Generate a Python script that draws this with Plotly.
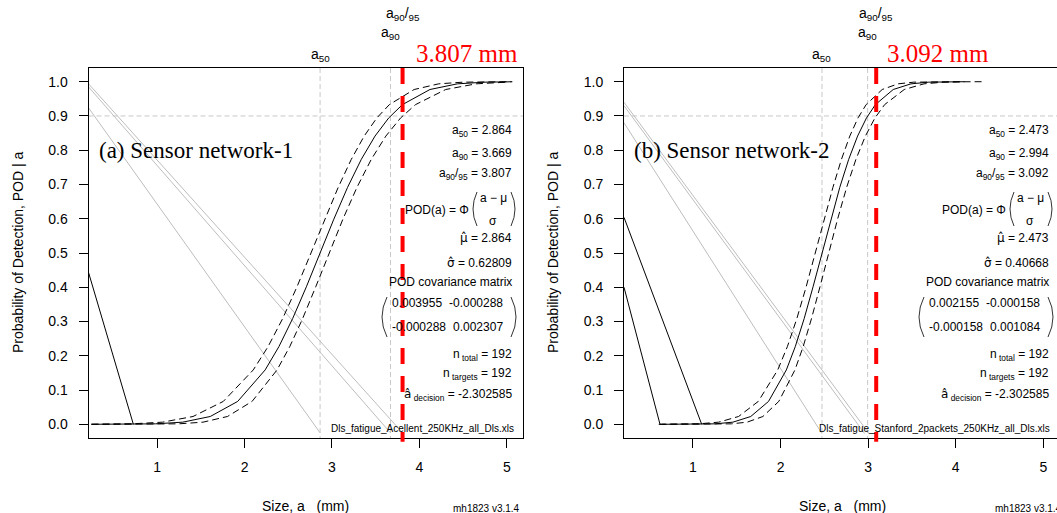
import plotly.graph_objects as go

W, H = 1057, 513
SANS = "Liberation Sans, Arial, sans-serif"
SERIF = "Liberation Serif, Times New Roman, serif"

# ---------------- data ----------------
X_TICKS = [1, 2, 3, 4, 5]
Y_TICKS = [0.0, 0.1, 0.2, 0.3, 0.4, 0.5, 0.6, 0.7, 0.8, 0.9, 1.0]

# Panel (a) Sensor network-1
A_MED_X = [0.25, 0.3516, 0.6657, 0.9797, 1.2938, 1.6078, 1.9219, 2.2359, 2.3929, 2.5500, 2.7070, 2.864,
           3.0210, 3.1780, 3.3351, 3.4921, 3.6491, 3.8061, 4.1202, 4.4342, 4.7483, 5.0623]
A_MED_P = [0.000016, 0.0000317, 0.000233, 0.00135, 0.00621, 0.02275, 0.0668, 0.1587, 0.2266, 0.3085, 0.4013, 0.5,
           0.5987, 0.6915, 0.7734, 0.8413, 0.8944, 0.9332, 0.97725, 0.99379, 0.99865, 0.999767]
A_LO_X = [0.25, 0.4173, 0.6934, 0.9701, 1.2472, 1.5254, 1.8048, 2.0865, 2.3719, 2.5169, 2.6642, 2.8142, 2.9675,
          3.1245, 3.2852, 3.4493, 3.6161, 3.7851, 3.9558, 4.3006, 4.6483, 4.9977]
A_LO_P = [0.0000008, 0.0000034, 0.0000317, 0.000233, 0.00135, 0.00621, 0.02275, 0.0668, 0.1587, 0.2266, 0.3085,
          0.4013, 0.5, 0.5987, 0.6915, 0.7734, 0.8413, 0.8944, 0.9332, 0.97725, 0.99379, 0.99865]
A_HI_X = [0.25, 0.3613, 0.7122, 1.0622, 1.4108, 1.7573, 2.0999, 2.2689, 2.4358, 2.5998, 2.7605, 2.9175, 3.0708,
          3.2209, 3.3681, 3.5131, 3.6564, 3.9398, 4.2201, 4.4989, 4.7764, 5.0534]
A_HI_P = [0.000126, 0.000233, 0.00135, 0.00621, 0.02275, 0.0668, 0.1587, 0.2266, 0.3085, 0.4013, 0.5, 0.5987,
          0.6915, 0.7734, 0.8413, 0.8944, 0.9332, 0.97725, 0.99379, 0.99865, 0.999767, 0.999968]
A_GRAY = [([0.216, 3.807], [0.994, -0.025]),
          ([0.216, 3.669], [0.985, -0.025]),
          ([0.216, 2.864], [0.924, -0.025])]
A_BLACK = [([0.216, 0.729], [0.4435, 0.0])]
A_STATS = {"a50": "2.864", "a90": "3.669", "a9095": "3.807", "mu": "2.864", "sigma": "0.62809",
           "cov": [["0.003955", "-0.000288"], ["-0.000288", "0.002307"]],
           "ntotal": "192", "ntargets": "192", "adec": "-2.302585"}
A_VLINES = {"a50": 2.864, "a90": 3.669, "a9095": 3.807}
A_FILE = "Dls_fatigue_Acellent_250KHz_all_Dls.xls"
A_LABEL = "(a) Sensor network-1"

# Panel (b) Sensor network-2
B_MED_X = [0.6429, 0.8463, 1.0496, 1.2530, 1.4563, 1.6596, 1.8630, 2.0663, 2.1680, 2.2697, 2.3713, 2.4730,
           2.5747, 2.6763, 2.7780, 2.8797, 2.9814, 3.0830, 3.2864, 3.4897, 3.6930, 3.8964, 4.0997]
B_MED_P = [0.0000034, 0.0000317, 0.000233, 0.00135, 0.00621, 0.02275, 0.0668, 0.1587, 0.2266, 0.3085, 0.4013,
           0.5, 0.5987, 0.6915, 0.7734, 0.8413, 0.8944, 0.9332, 0.97725, 0.99379, 0.99865, 0.999767, 0.999968]
B_LO_X = [0.62, 0.9057, 1.0833, 1.2612, 1.4395, 1.6185, 1.7984, 1.9801, 2.1644, 2.2581, 2.3533, 2.4502, 2.5494,
          2.6509, 2.7546, 2.8607, 2.9686, 3.0781, 3.1886, 3.4123, 3.6381, 3.8652, 4.0933, 4.3218]
B_LO_P = [0.0000002, 0.0000034, 0.0000317, 0.000233, 0.00135, 0.00621, 0.02275, 0.0668, 0.1587, 0.2266, 0.3085,
          0.4013, 0.5, 0.5987, 0.6915, 0.7734, 0.8413, 0.8944, 0.9332, 0.97725, 0.99379, 0.99865, 0.999767, 0.999968]
B_HI_X = [0.6093, 0.8380, 1.0665, 1.2941, 1.5208, 1.7459, 1.9682, 2.0779, 2.1861, 2.2924, 2.3966, 2.4985,
          2.5980, 2.6953, 2.7908, 2.8847, 2.9774, 3.1605, 3.3413, 3.5208, 3.6995, 3.8776, 4.0553]
B_HI_P = [0.0000317, 0.000233, 0.00135, 0.00621, 0.02275, 0.0668, 0.1587, 0.2266, 0.3085, 0.4013, 0.5, 0.5987,
          0.6915, 0.7734, 0.8413, 0.8944, 0.9332, 0.97725, 0.99379, 0.99865, 0.999767, 0.999968, 0.9999966]
B_GRAY = [([0.213, 3.01], [0.94, -0.027]),
          ([0.213, 2.96], [0.93, -0.027]),
          ([0.213, 2.473], [0.88, -0.027])]
B_BLACK = [([0.213, 1.10], [0.604, 0.0]),
           ([0.213, 0.624], [0.40, 0.0])]
B_STATS = {"a50": "2.473", "a90": "2.994", "a9095": "3.092", "mu": "2.473", "sigma": "0.40668",
           "cov": [["0.002155", "-0.000158"], ["-0.000158", "0.001084"]],
           "ntotal": "192", "ntargets": "192", "adec": "-2.302585"}
B_VLINES = {"a50": 2.473, "a90": 2.994, "a9095": 3.092}
B_FILE = "Dls_fatigue_Stanford_2packets_250KHz_all_Dls.xls"
B_LABEL = "(b) Sensor network-2"

# ---------------- layout helpers ----------------
def PX(x):
    return x / W


def PY(y):
    return 1 - y / H


def HAT(ch):
    return f'<span style="font-family:DejaVu Sans">{ch}\u0302</span>'


fig = go.Figure()
annotations = []
shapes = []

panels = [
    dict(xa="x", ya="y", med=(A_MED_X, A_MED_P), lo=(A_LO_X, A_LO_P), hi=(A_HI_X, A_HI_P),
         gray=A_GRAY, black=A_BLACK, stats=A_STATS, vl=A_VLINES, file=A_FILE, label=A_LABEL,
         box=(88.5, 523), textR=514, fileR=516, labelX=97, ytitleX=18, redtextX=414, mhR=522, mhAnchor="right"),
    dict(xa="x2", ya="y2", med=(B_MED_X, B_MED_P), lo=(B_LO_X, B_LO_P), hi=(B_HI_X, B_HI_P),
         gray=B_GRAY, black=B_BLACK, stats=B_STATS, vl=B_VLINES, file=B_FILE, label=B_LABEL,
         box=(624, 1060), textR=1051, fileR=1052, labelX=632, ytitleX=553, redtextX=885, mhR=993, mhAnchor="left"),
]

BOX_TOP, BOX_BOT = 68, 438

for p in panels:
    xa, ya = p["xa"], p["ya"]
    for gx, gy in p["gray"]:
        fig.add_trace(go.Scatter(x=gx, y=gy, xaxis=xa, yaxis=ya, mode="lines",
                                 line=dict(color="#bdbdbd", width=1), hoverinfo="skip"))
    for bx, by in p["black"]:
        fig.add_trace(go.Scatter(x=bx, y=by, xaxis=xa, yaxis=ya, mode="lines",
                                 line=dict(color="black", width=1), hoverinfo="skip"))
    for key, dash in (("lo", "7px,4px"), ("hi", "7px,4px"), ("med", None)):
        cx, cy = p[key]
        fig.add_trace(go.Scatter(x=cx, y=cy, xaxis=xa, yaxis=ya, mode="lines",
                                 line=dict(color="black", width=1, dash=dash), hoverinfo="skip"))

    # reference lines
    for k in ("a50", "a90"):
        shapes.append(dict(type="line", xref=xa, yref=f"{ya} domain", x0=p["vl"][k], x1=p["vl"][k], y0=1, y1=0,
                           line=dict(color="#c8c8c8", width=1, dash="5px,3px"), layer="below"))
    shapes.append(dict(type="line", xref=f"{xa} domain", yref=ya, x0=0, x1=1, y0=0.9, y1=0.9,
                       line=dict(color="#c8c8c8", width=1, dash="5px,3px"), layer="below"))
    shapes.append(dict(type="line", xref=xa, yref=f"{ya} domain", x0=p["vl"]["a9095"], x1=p["vl"]["a9095"],
                       y0=1, y1=-0.01, line=dict(color="#ff0000", width=4, dash="16px,12px"), layer="above"))

    # top labels
    for k, txt, yy in (("a50", "a<sub>50</sub>", 55), ("a90", "a<sub>90</sub>", 33),
                       ("a9095", "a<sub>90</sub>/<sub>95</sub>", 14)):
        annotations.append(dict(x=p["vl"][k], xref=xa, y=PY(yy), yref="paper", text=txt, showarrow=False,
                                xanchor="center", yanchor="middle", font=dict(size=14, family=SANS, color="black")))
    annotations.append(dict(x=PX(p["redtextX"]), xref="paper", y=PY(53), yref="paper",
                            text=f"{p['stats']['a9095']} mm", showarrow=False, xanchor="left", yanchor="middle",
                            font=dict(size=25, family=SERIF, color="#ff0000")))

    # panel label
    annotations.append(dict(x=PX(p["labelX"]), xref="paper", y=PY(150), yref="paper", text=p["label"],
                            showarrow=False, xanchor="left", yanchor="middle",
                            font=dict(size=23, family=SERIF, color="black")))

    # stats block
    R = p["textR"]
    s = p["stats"]
    f12 = dict(size=12, family=SANS, color="black")
    lines = [
        (131, f"a<sub>50</sub> = {s['a50']}"),
        (154, f"a<sub>90</sub> = {s['a90']}"),
        (174, f"a<sub>90</sub>/<sub>95</sub> = {s['a9095']}"),
        (238, f"{HAT('\u03bc')} = {s['mu']}"),
        (263, f"{HAT('\u03c3')} = {s['sigma']}"),
        (282, "POD covariance matrix"),
        (355, f"n<sub> total</sub> = {s['ntotal']}"),
        (374, f"n<sub> targets</sub> = {s['ntargets']}"),
        (395, f"{HAT('a')}<sub> decision</sub> = {s['adec']}"),
    ]
    for yy, txt in lines:
        annotations.append(dict(x=PX(R), xref="paper", y=PY(yy), yref="paper", text=txt, showarrow=False,
                                xanchor="right", yanchor="middle", font=f12))
    # formula
    annotations.append(dict(x=PX(R - 43), xref="paper", y=PY(210), yref="paper", text="POD(a) = \u03a6",
                            showarrow=False, xanchor="right", yanchor="middle", font=f12))
    annotations.append(dict(x=PX(R - 21), xref="paper", y=PY(198), yref="paper", text="a \u2212 \u03bc",
                            showarrow=False, xanchor="center", yanchor="middle", font=f12))
    annotations.append(dict(x=PX(R - 21), xref="paper", y=PY(221), yref="paper", text="\u03c3",
                            showarrow=False, xanchor="center", yanchor="middle", font=f12))

    def paren(xl, xr, yt, yb, left=True):
        ym = (yt + yb) / 2
        if left:
            return f"M {PX(xr)},{PY(yt)} Q {PX(2 * xl - xr)},{PY(ym)} {PX(xr)},{PY(yb)}"
        return f"M {PX(xl)},{PY(yt)} Q {PX(2 * xr - xl)},{PY(ym)} {PX(xl)},{PY(yb)}"

    for path in (paren(R - 41, R - 37, 192, 226, True), paren(R - 3, R + 1, 192, 226, False),
                 paren(R - 132, R - 127, 297, 337, True), paren(R - 3, R + 2, 297, 337, False)):
        shapes.append(dict(type="path", xref="paper", yref="paper", path=path,
                           line=dict(color="#333333", width=1), layer="above"))
    # matrix cells
    for ri, yy in enumerate((303, 327)):
        annotations.append(dict(x=PX(R - 124), xref="paper", y=PY(yy), yref="paper", text=s["cov"][ri][0],
                                showarrow=False, xanchor="left", yanchor="middle", font=f12))
        annotations.append(dict(x=PX(R - 9), xref="paper", y=PY(yy), yref="paper", text=s["cov"][ri][1],
                                showarrow=False, xanchor="right", yanchor="middle", font=f12))
    # file name
    annotations.append(dict(x=PX(p["fileR"]), xref="paper", y=PY(428), yref="paper", text=p["file"],
                            showarrow=False, xanchor="right", yanchor="middle",
                            font=dict(size=10, family=SANS, color="black")))
    # axis titles
    bx0, bx1 = p["box"]
    annotations.append(dict(x=PX((bx0 + bx1) / 2), xref="paper", y=PY(506), yref="paper",
                            text="Size, a\u00a0\u00a0\u00a0(mm)", showarrow=False, xanchor="center",
                            yanchor="middle", font=dict(size=14, family=SANS, color="black")))
    annotations.append(dict(x=PX(p["ytitleX"]), xref="paper", y=PY(253), yref="paper",
                            text="Probability of Detection, POD | a", showarrow=False, textangle=-90,
                            xanchor="center", yanchor="middle", font=dict(size=14, family=SANS, color="black")))
    annotations.append(dict(x=PX(p["mhR"]), xref="paper", y=PY(508), yref="paper", text="mh1823 v3.1.4",
                            showarrow=False, xanchor=p["mhAnchor"], yanchor="middle",
                            font=dict(size=10, family=SANS, color="black")))

axis_common = dict(ticks="outside", ticklen=9, tickwidth=1, tickcolor="black", showline=True,
                   linecolor="black", linewidth=1, showgrid=False, zeroline=False,
                   tickfont=dict(size=14, family=SANS, color="black"))
ydom = [PY(BOX_BOT), PY(BOX_TOP)]

fig.update_layout(
    width=W, height=H, margin=dict(l=0, r=0, t=0, b=0), showlegend=False,
    paper_bgcolor="white", plot_bgcolor="white",
    xaxis=dict(domain=[PX(88.5), PX(523)], range=[0.216, 5.184], anchor="y", tickvals=X_TICKS,
               mirror=True, ticklabelstandoff=7, **axis_common),
    yaxis=dict(domain=ydom, range=[-0.04, 1.04], anchor="x", tickvals=Y_TICKS,
               ticktext=[f"{v:.1f}" for v in Y_TICKS], mirror=True, ticklabelstandoff=8, **axis_common),
    xaxis2=dict(domain=[PX(624), 1.0], range=[0.213, 5.156], anchor="y2", tickvals=X_TICKS,
                mirror=True, ticklabelstandoff=7, **axis_common),
    yaxis2=dict(domain=ydom, range=[-0.04, 1.04], anchor="x2", tickvals=Y_TICKS,
                ticktext=[f"{v:.1f}" for v in Y_TICKS], mirror=False, ticklabelstandoff=8, **axis_common),
    annotations=annotations, shapes=shapes,
)

fig.write_html("out.html")
